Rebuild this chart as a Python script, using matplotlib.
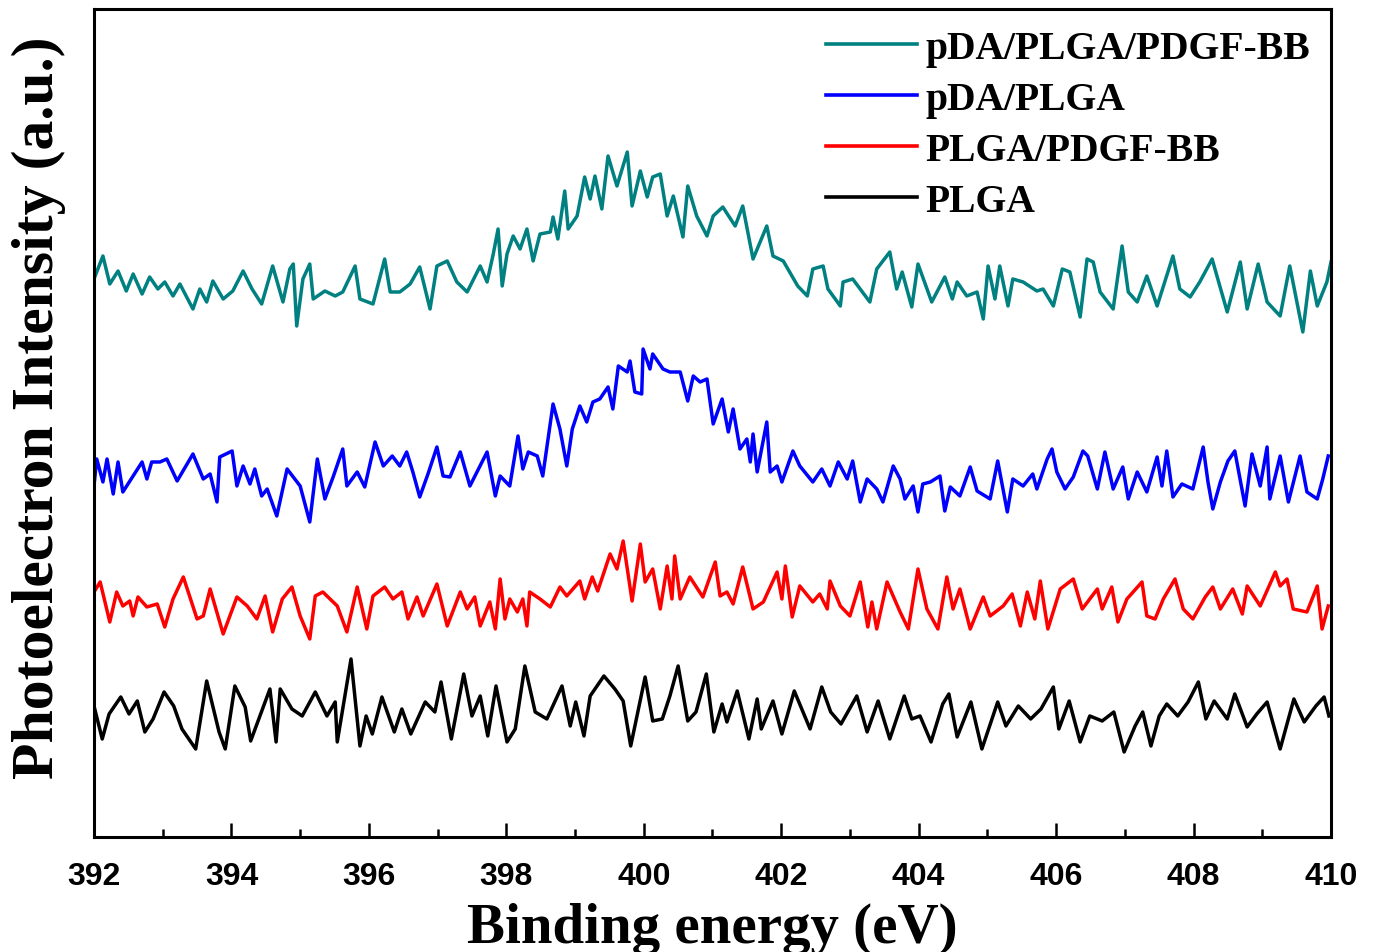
import numpy as np
import matplotlib
matplotlib.use('Agg')
from matplotlib import pyplot as plt
from matplotlib.ticker import MultipleLocator

# N 1s spectra (binding energy in eV, intensity in a.u., already stacked)
teal_e = [392.00, 392.13, 392.23, 392.35, 392.47, 392.57, 392.70, 392.81, 392.93, 393.03, 393.15, 393.25,
          393.44, 393.54, 393.64, 393.73, 393.88, 394.02, 394.17, 394.30, 394.44, 394.60, 394.75, 394.85,
          394.90, 394.95, 395.04, 395.14, 395.19, 395.36, 395.51, 395.62, 395.80, 395.87, 396.06, 396.23,
          396.31, 396.45, 396.60, 396.74, 396.89, 396.99, 397.14, 397.28, 397.43, 397.62, 397.72, 397.81,
          397.88, 397.94, 398.01, 398.10, 398.20, 398.30, 398.39, 398.49, 398.64, 398.68, 398.75, 398.85,
          398.90, 399.03, 399.14, 399.22, 399.29, 399.39, 399.48, 399.61, 399.76, 399.83, 399.95, 400.05,
          400.13, 400.24, 400.34, 400.43, 400.57, 400.64, 400.77, 400.92, 401.01, 401.15, 401.33, 401.44,
          401.59, 401.79, 401.88, 402.03, 402.24, 402.38, 402.46, 402.61, 402.68, 402.86, 402.90, 403.04,
          403.29, 403.39, 403.58, 403.68, 403.76, 403.90, 403.99, 404.19, 404.38, 404.49, 404.56, 404.70,
          404.85, 404.94, 405.01, 405.11, 405.18, 405.30, 405.37, 405.52, 405.72, 405.81, 405.96, 406.09,
          406.20, 406.35, 406.45, 406.54, 406.64, 406.83, 406.96, 407.05, 407.18, 407.32, 407.47, 407.70,
          407.80, 407.95, 408.09, 408.27, 408.49, 408.68, 408.78, 408.94, 409.07, 409.26, 409.40, 409.59,
          409.70, 409.80, 409.94, 410.00]
teal_i = [558, 581, 553, 566, 546, 563, 543, 560, 548, 555, 541, 553,
          528, 548, 535, 556, 538, 546, 566, 548, 533, 571, 535, 568,
          573, 511, 558, 573, 538, 546, 541, 545, 571, 538, 533, 578,
          545, 545, 553, 570, 528, 571, 576, 555, 545, 571, 555, 583,
          608, 551, 583, 601, 588, 608, 576, 603, 605, 620, 598, 646,
          608, 621, 660, 638, 661, 628, 681, 651, 685, 631, 666, 640,
          660, 663, 621, 641, 600, 651, 621, 601, 621, 630, 611, 631,
          578, 611, 581, 576, 551, 541, 568, 571, 548, 531, 555, 558,
          535, 568, 585, 548, 565, 530, 573, 535, 560, 538, 555, 541,
          545, 518, 571, 538, 571, 531, 558, 555, 546, 548, 531, 568,
          565, 520, 578, 575, 545, 528, 591, 545, 535, 561, 531, 581,
          548, 540, 555, 578, 525, 575, 528, 573, 535, 521, 571, 505,
          566, 531, 555, 575]

blue_e = [392.00, 392.04, 392.13, 392.19, 392.28, 392.35, 392.42, 392.57, 392.70, 392.77, 392.84, 392.96,
          393.06, 393.21, 393.44, 393.59, 393.69, 393.79, 393.83, 394.01, 394.08, 394.17, 394.27, 394.34,
          394.44, 394.52, 394.66, 394.81, 395.00, 395.14, 395.25, 395.36, 395.48, 395.62, 395.68, 395.83,
          395.94, 396.09, 396.21, 396.34, 396.45, 396.55, 396.64, 396.74, 396.86, 396.99, 397.08, 397.18,
          397.33, 397.47, 397.72, 397.84, 397.91, 398.05, 398.17, 398.24, 398.32, 398.45, 398.53, 398.68,
          398.78, 398.88, 398.96, 399.07, 399.17, 399.26, 399.36, 399.48, 399.55, 399.63, 399.76, 399.80,
          399.87, 399.97, 399.99, 400.09, 400.13, 400.28, 400.38, 400.53, 400.64, 400.72, 400.82, 400.92,
          401.01, 401.14, 401.23, 401.30, 401.40, 401.50, 401.55, 401.59, 401.65, 401.79, 401.84, 401.94,
          402.01, 402.17, 402.27, 402.46, 402.59, 402.71, 402.83, 402.96, 403.04, 403.15, 403.25, 403.39,
          403.48, 403.63, 403.73, 403.80, 403.92, 403.99, 404.06, 404.17, 404.31, 404.38, 404.46, 404.60,
          404.75, 404.85, 405.04, 405.15, 405.29, 405.37, 405.52, 405.66, 405.72, 405.87, 405.94, 406.01,
          406.13, 406.25, 406.39, 406.46, 406.60, 406.71, 406.83, 406.97, 407.05, 407.18, 407.32, 407.47,
          407.54, 407.61, 407.70, 407.83, 407.99, 408.14, 408.21, 408.28, 408.39, 408.50, 408.60, 408.75,
          408.85, 408.97, 409.07, 409.11, 409.26, 409.38, 409.55, 409.65, 409.80, 409.88, 409.96]
blue_i = [351, 378, 355, 378, 343, 375, 345, 361, 375, 358, 375, 375,
          378, 356, 383, 358, 363, 335, 380, 386, 351, 371, 353, 368,
          341, 348, 321, 368, 351, 315, 378, 338, 360, 388, 351, 365,
          350, 395, 371, 381, 371, 385, 365, 340, 363, 390, 361, 360,
          385, 351, 385, 341, 361, 351, 401, 368, 385, 381, 361, 433,
          408, 371, 408, 431, 415, 435, 438, 450, 428, 471, 465, 476,
          445, 443, 488, 468, 483, 468, 465, 465, 436, 461, 455, 458,
          413, 438, 405, 428, 388, 398, 375, 403, 365, 415, 365, 371,
          355, 386, 371, 355, 368, 351, 375, 358, 376, 335, 358, 348,
          335, 371, 358, 338, 351, 325, 353, 355, 361, 326, 350, 341,
          370, 346, 338, 376, 325, 358, 351, 363, 348, 378, 388, 365,
          348, 360, 386, 381, 348, 385, 348, 370, 338, 365, 345, 380,
          351, 386, 340, 353, 348, 390, 355, 328, 355, 376, 386, 331,
          383, 351, 390, 338, 381, 335, 381, 345, 338, 358, 381]

red_e = [392.00, 392.09, 392.23, 392.33, 392.42, 392.52, 392.57, 392.64, 392.77, 392.92, 393.03, 393.15,
         393.30, 393.50, 393.59, 393.69, 393.88, 394.08, 394.23, 394.37, 394.49, 394.60, 394.74, 394.88,
         395.00, 395.14, 395.22, 395.33, 395.54, 395.68, 395.83, 395.97, 396.06, 396.23, 396.35, 396.48,
         396.57, 396.70, 396.79, 396.99, 397.14, 397.33, 397.43, 397.54, 397.62, 397.76, 397.84, 397.91,
         397.98, 398.05, 398.16, 398.24, 398.30, 398.34, 398.49, 398.64, 398.78, 398.88, 399.07, 399.14,
         399.25, 399.33, 399.51, 399.61, 399.70, 399.83, 399.95, 400.02, 400.13, 400.24, 400.34, 400.41,
         400.45, 400.53, 400.67, 400.86, 401.04, 401.11, 401.21, 401.30, 401.44, 401.59, 401.74, 401.94,
         402.01, 402.06, 402.16, 402.27, 402.46, 402.56, 402.67, 402.71, 402.86, 403.00, 403.15, 403.26,
         403.32, 403.39, 403.54, 403.73, 403.85, 403.99, 404.12, 404.28, 404.41, 404.50, 404.60, 404.75,
         404.94, 405.04, 405.23, 405.36, 405.48, 405.58, 405.69, 405.77, 405.88, 406.06, 406.25, 406.38,
         406.60, 406.67, 406.81, 406.90, 407.03, 407.25, 407.32, 407.44, 407.56, 407.73, 407.85, 407.99,
         408.17, 408.28, 408.39, 408.57, 408.71, 408.78, 408.97, 409.19, 409.26, 409.36, 409.45, 409.65,
         409.80, 409.87, 409.96]
red_i = [245, 255, 215, 245, 231, 236, 221, 240, 230, 233, 210, 238,
         260, 218, 221, 248, 203, 240, 231, 218, 241, 205, 238, 250,
         221, 198, 241, 245, 231, 205, 250, 208, 241, 250, 238, 245,
         218, 240, 221, 253, 211, 245, 228, 240, 211, 235, 208, 258,
         218, 238, 225, 238, 211, 245, 238, 230, 250, 241, 256, 238,
         260, 246, 283, 268, 296, 236, 293, 255, 268, 228, 271, 238,
         281, 238, 260, 240, 275, 241, 245, 233, 270, 228, 235, 265,
         238, 271, 220, 251, 235, 243, 228, 256, 231, 221, 255, 210,
         235, 208, 255, 225, 208, 268, 228, 208, 260, 228, 248, 208,
         240, 221, 231, 243, 211, 245, 218, 256, 208, 248, 258, 228,
         248, 228, 250, 215, 238, 255, 221, 218, 238, 258, 228, 218,
         240, 250, 228, 248, 223, 251, 231, 265, 251, 258, 228, 225,
         251, 208, 231]

black_e = [392.00, 392.12, 392.22, 392.39, 392.51, 392.63, 392.74, 392.86, 393.02, 393.16, 393.28, 393.48,
           393.64, 393.82, 393.91, 394.05, 394.20, 394.28, 394.56, 394.65, 394.71, 394.88, 395.03, 395.22,
           395.39, 395.51, 395.54, 395.74, 395.87, 395.96, 396.05, 396.19, 396.37, 396.48, 396.61, 396.82,
           396.96, 397.05, 397.20, 397.38, 397.50, 397.62, 397.73, 397.85, 398.01, 398.13, 398.27, 398.42,
           398.59, 398.81, 398.93, 399.01, 399.13, 399.22, 399.42, 399.58, 399.70, 399.81, 400.02, 400.13,
           400.27, 400.38, 400.50, 400.64, 400.76, 400.91, 401.02, 401.14, 401.21, 401.36, 401.53, 401.65,
           401.71, 401.88, 402.01, 402.19, 402.42, 402.59, 402.72, 402.87, 403.10, 403.25, 403.41, 403.58,
           403.79, 403.90, 404.02, 404.18, 404.35, 404.44, 404.56, 404.76, 404.92, 405.15, 405.27, 405.45,
           405.63, 405.78, 405.96, 406.04, 406.19, 406.35, 406.49, 406.67, 406.84, 406.99, 407.15, 407.26,
           407.38, 407.50, 407.61, 407.77, 407.92, 408.07, 408.18, 408.30, 408.49, 408.60, 408.78, 408.92,
           409.07, 409.26, 409.46, 409.61, 409.78, 409.90, 409.97]
black_i = [131, 98, 123, 140, 123, 136, 105, 118, 145, 131, 108, 88,
           156, 105, 88, 151, 130, 96, 148, 95, 148, 128, 121, 145,
           121, 135, 95, 178, 91, 121, 103, 140, 105, 128, 103, 135,
           125, 155, 98, 163, 121, 141, 101, 151, 95, 108, 171, 125,
           118, 151, 111, 135, 101, 141, 161, 148, 136, 91, 160, 116,
           118, 141, 171, 116, 125, 163, 105, 133, 115, 146, 98, 138,
           108, 136, 103, 146, 108, 150, 125, 113, 141, 105, 136, 98,
           141, 118, 121, 95, 133, 143, 100, 135, 88, 135, 111, 131,
           118, 128, 150, 108, 136, 95, 121, 116, 125, 85, 111, 125,
           91, 121, 133, 121, 135, 155, 118, 136, 118, 143, 110, 123,
           135, 88, 138, 115, 131, 140, 121]

labels = ['pDA/PLGA/PDGF-BB', 'pDA/PLGA', 'PLGA/PDGF-BB', 'PLGA']
colors = ['#008080', '#0000FF', '#FF0000', '#000000']

fig = plt.figure(figsize=(13.76, 9.53), dpi=100)
ax = fig.add_axes([0.0683, 0.1207, 0.8990, 0.8688])

series = [(teal_e, teal_i), (blue_e, blue_i), (red_e, red_i), (black_e, black_i)]
for (e, inten), lab, c in zip(series, labels, colors):
    ax.plot(e, inten, color=c, lw=2.5, label=lab)

ax.set_xlim(392, 410)
ax.set_ylim(0, 828)
ax.xaxis.set_major_locator(MultipleLocator(2))
ax.xaxis.set_minor_locator(MultipleLocator(1))
ax.tick_params(axis='x', which='major', direction='in', length=10, width=1.8, pad=17)
ax.tick_params(axis='x', which='minor', direction='in', length=6, width=1.8)
ax.set_yticks([])
for lbl in ax.get_xticklabels():
    lbl.set_fontfamily('Liberation Sans')
    lbl.set_fontweight('bold')
    lbl.set_fontsize(23)
for sp in ax.spines.values():
    sp.set_linewidth(2.2)

ax.set_xlabel('Binding energy (eV)', fontfamily='Liberation Serif', fontweight='bold',
              fontsize=41, labelpad=8)
ax.set_ylabel('Photoelectron Intensity (a.u.)', fontfamily='Liberation Serif', fontweight='bold',
              fontsize=43)
ax.yaxis.set_label_coords(-0.023, 0.52)

leg = ax.legend(loc='upper right', bbox_to_anchor=(1.0, 1.0), frameon=False,
                prop={'family': 'Liberation Serif', 'weight': 'bold', 'size': 28.5},
                handlelength=2.3, handletextpad=0.22, labelspacing=0.36,
                borderaxespad=0.1, borderpad=0.42)
for h in leg.get_lines():
    h.set_linewidth(2.6)

fig.savefig('out.png', dpi=100)
